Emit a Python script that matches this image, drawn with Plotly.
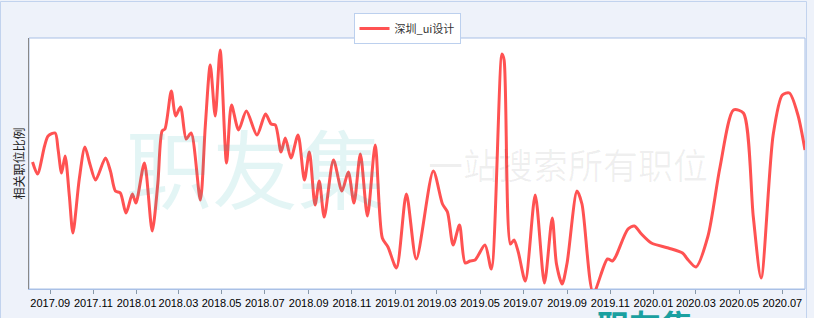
import plotly.graph_objects as go

series_name = "深圳_ui设计"
y_title = "相关职位比例"

dates = [
    "2017-08-07", "2017-08-14", "2017-08-24", "2017-08-29", "2017-09-08", "2017-09-12",
    "2017-09-17", "2017-09-22", "2017-09-28", "2017-10-03", "2017-10-12", "2017-10-20",
    "2017-10-27", "2017-11-04", "2017-11-18", "2017-11-25", "2017-12-02", "2017-12-09",
    "2017-12-17", "2017-12-26", "2017-12-31", "2018-01-12", "2018-01-23", "2018-01-31",
    "2018-02-06", "2018-02-10", "2018-02-19", "2018-02-25", "2018-03-04", "2018-03-12",
    "2018-03-19", "2018-04-01", "2018-04-08", "2018-04-15", "2018-04-22", "2018-04-29",
    "2018-05-08", "2018-05-15", "2018-05-25", "2018-06-05", "2018-06-20", "2018-07-02",
    "2018-07-10", "2018-07-16", "2018-07-24", "2018-07-30", "2018-08-07", "2018-08-17",
    "2018-08-26", "2018-09-02", "2018-09-10", "2018-09-16", "2018-09-23", "2018-10-06",
    "2018-10-18", "2018-10-27", "2018-11-04", "2018-11-13", "2018-11-23", "2018-12-04",
    "2018-12-14", "2018-12-22", "2019-01-03", "2019-01-17", "2019-01-31", "2019-02-24",
    "2019-03-09", "2019-03-16", "2019-03-24", "2019-04-02", "2019-04-10", "2019-04-17",
    "2019-04-24", "2019-05-08", "2019-05-17", "2019-06-01", "2019-06-04", "2019-06-13",
    "2019-06-18", "2019-06-24", "2019-07-04", "2019-07-18", "2019-07-31", "2019-08-11",
    "2019-08-17", "2019-08-25", "2019-09-01", "2019-09-15", "2019-09-22", "2019-10-08",
    "2019-10-28", "2019-11-04", "2019-11-09", "2019-11-26", "2019-12-05", "2019-12-15",
    "2019-12-29", "2020-01-22", "2020-02-11", "2020-02-19", "2020-03-01", "2020-03-18",
    "2020-04-04", "2020-04-23", "2020-05-07", "2020-05-21", "2020-06-01", "2020-06-18",
    "2020-07-01", "2020-07-11", "2020-07-23", "2020-08-02",
]

values = [
    13.8, 12.6, 15.4, 16.4, 16.7, 15.1,
    12.7, 14.4, 10.4, 6.7, 12.1, 15.3,
    13.6, 12.0, 14.2, 12.9, 10.9, 10.7,
    8.7, 10.6, 9.7, 13.7, 6.9, 11.7,
    16.9, 17.1, 20.9, 18.4, 19.3, 16.1,
    16.7, 10.0, 17.4, 23.5, 18.4, 25.0,
    13.7, 19.5, 17.0, 18.9, 16.5, 18.6,
    17.6, 17.5, 14.8, 16.2, 14.2, 16.5,
    12.0, 14.8, 9.5, 11.9, 8.3, 14.0,
    10.9, 12.8, 9.7, 14.6, 8.4, 15.5,
    6.2, 5.3, 3.2, 10.6, 4.1, 12.9,
    9.6, 8.8, 5.5, 7.5, 3.7, 3.9,
    4.0, 5.5, 3.1, 24.6, 24.0, 5.6,
    6.0, 4.8, 1.9, 10.5, 1.7, 8.2,
    3.6, 1.6, 3.7, 10.9, 9.6, 0.7,
    4.1, 3.9, 4.4, 7.1, 7.4, 6.6,
    5.7, 5.2, 4.7, 4.0, 3.3, 6.4,
    13.3, 19.0, 18.7, 8.3, 2.2, 16.5,
    20.5, 20.7, 18.5, 15.0,
]
assert len(dates) == len(values)

x_range = ["2017-08-02", "2020-08-02"]
y_range = [1.1, 26.2]

W, H = 814, 318
ML, MR, MT, MB = 29, 9, 38, 29
PW, PH = W - ML - MR, H - MT - MB


def px(xp):
    return (xp - ML) / PW


def py(yp):
    return (H - MB - yp) / PH


fig = go.Figure()
fig.add_trace(go.Scatter(
    x=dates, y=values, name=series_name, mode="lines",
    line=dict(color="#FF5252", width=3, shape="spline", smoothing=0.75),
    showlegend=True,
))

fig.update_layout(
    width=W, height=H,
    margin=dict(l=ML, r=MR, t=MT, b=MB, autoexpand=False),
    paper_bgcolor="#EEF2FA",
    plot_bgcolor="#FFFFFF",
    showlegend=True,
    legend=dict(
        orientation="h", x=px(407), xanchor="center", y=py(13), yanchor="top",
        bgcolor="#FFFFFF", bordercolor="#BCD0EE", borderwidth=1,
        font=dict(family="Noto Sans CJK SC, Liberation Sans", size=11, color="#333333"),
        itemwidth=30, tracegroupgap=0,
    ),
    xaxis=dict(
        type="date", range=x_range, tick0="2017-09-01", dtick="M2",
        tickformat="%Y.%m", ticks="outside", ticklen=4, tickcolor="#8899AA",
        tickangle=0, automargin=False,
        tickfont=dict(family="Liberation Sans", size=11, color="#000000"),
        showgrid=False, zeroline=False, showline=True, linecolor="#A9C0E6", linewidth=1,
        fixedrange=True,
    ),
    yaxis=dict(
        range=y_range, showticklabels=False, ticks="", showgrid=False, zeroline=False,
        showline=True, linecolor="#888888", linewidth=1, fixedrange=True,
        automargin=False,
    ),
    shapes=[
        dict(type="rect", xref="paper", yref="paper", x0=0, x1=1, y0=0, y1=1,
             line=dict(color="#A9C0E6", width=1), layer="below"),
        dict(type="rect", xref="paper", yref="paper", x0=px(0.5), x1=px(806.5),
             y0=py(330), y1=py(1.5), line=dict(color="#C2D3EE", width=1), layer="below"),
    ],
    annotations=[
        dict(text="职友集", xref="paper", yref="paper", x=px(255), y=py(165),
             xanchor="center", yanchor="middle", showarrow=False,
             font=dict(family="Noto Sans CJK SC", size=86, color="rgba(0,160,160,0.11)")),
        dict(text="一站搜索所有职位", xref="paper", yref="paper", x=px(568), y=py(163),
             xanchor="center", yanchor="middle", showarrow=False,
             font=dict(family="Noto Sans CJK SC", size=35, color="rgba(0,0,0,0.06)")),
        dict(text="<b>职友集</b>", xref="paper", yref="paper", x=px(645), y=py(299),
             xanchor="center", yanchor="top", showarrow=False,
             font=dict(family="Noto Sans CJK SC", size=32, color="#1AA0A0")),
        dict(text=y_title, xref="paper", yref="paper", x=px(18), y=0.5,
             xanchor="center", yanchor="middle", showarrow=False, textangle=-90,
             font=dict(family="Noto Sans CJK SC", size=12, color="#222222")),
    ],
)

fig.write_html("out.html", config={"displayModeBar": False})
